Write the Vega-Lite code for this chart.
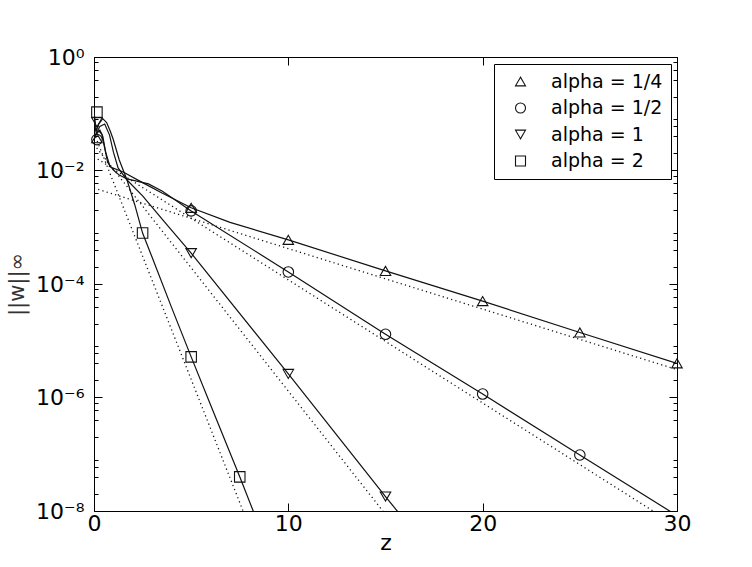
{
  "$schema": "https://vega.github.io/schema/vega-lite/v6.json",
  "width": 583,
  "height": 454,
  "autosize": {"type": "none"},
  "padding": {"left": 94, "top": 57, "right": 75, "bottom": 56},
  "background": "#ffffff",
  "config": {
    "view": {"stroke": null},
    "font": "DejaVu Sans",
    "axis": {
      "grid": false,
      "domainColor": "#000000",
      "domainWidth": 1,
      "tickColor": "#000000",
      "tickWidth": 1,
      "labelColor": "#000000",
      "labelFont": "DejaVu Sans",
      "labelFontSize": 22,
      "titleFont": "DejaVu Sans",
      "titleFontWeight": "normal",
      "titleColor": "#000000"
    }
  },
  "datasets": {
    "lines": [
      {"s": "alpha = 1/4", "k": "solid", "z": 0, "w": 0.0373},
      {"s": "alpha = 1/4", "k": "solid", "z": 0.1, "w": 0.044},
      {"s": "alpha = 1/4", "k": "solid", "z": 0.25, "w": 0.0497},
      {"s": "alpha = 1/4", "k": "solid", "z": 0.4, "w": 0.044},
      {"s": "alpha = 1/4", "k": "solid", "z": 0.55, "w": 0.0249},
      {"s": "alpha = 1/4", "k": "solid", "z": 0.7, "w": 0.0141},
      {"s": "alpha = 1/4", "k": "solid", "z": 0.85, "w": 0.0115},
      {"s": "alpha = 1/4", "k": "solid", "z": 1.5, "w": 0.0094},
      {"s": "alpha = 1/4", "k": "solid", "z": 2.5, "w": 0.00612},
      {"s": "alpha = 1/4", "k": "solid", "z": 3.5, "w": 0.004},
      {"s": "alpha = 1/4", "k": "solid", "z": 5, "w": 0.0022},
      {"s": "alpha = 1/4", "k": "solid", "z": 7, "w": 0.00122},
      {"s": "alpha = 1/4", "k": "solid", "z": 10, "w": 0.0006},
      {"s": "alpha = 1/4", "k": "solid", "z": 15, "w": 0.00017},
      {"s": "alpha = 1/4", "k": "solid", "z": 20, "w": 0.00005},
      {"s": "alpha = 1/4", "k": "solid", "z": 25, "w": 0.000014},
      {"s": "alpha = 1/4", "k": "solid", "z": 30, "w": 0.000004},

      {"s": "alpha = 1/2", "k": "solid", "z": 0, "w": 0.035},
      {"s": "alpha = 1/2", "k": "solid", "z": 0.1, "w": 0.044},
      {"s": "alpha = 1/2", "k": "solid", "z": 0.3, "w": 0.0516},
      {"s": "alpha = 1/2", "k": "solid", "z": 0.45, "w": 0.0404},
      {"s": "alpha = 1/2", "k": "solid", "z": 0.6, "w": 0.0211},
      {"s": "alpha = 1/2", "k": "solid", "z": 0.8, "w": 0.0125},
      {"s": "alpha = 1/2", "k": "solid", "z": 1.0, "w": 0.0102},
      {"s": "alpha = 1/2", "k": "solid", "z": 1.3, "w": 0.0083},
      {"s": "alpha = 1/2", "k": "solid", "z": 1.7, "w": 0.0071},
      {"s": "alpha = 1/2", "k": "solid", "z": 2.2, "w": 0.0065},
      {"s": "alpha = 1/2", "k": "solid", "z": 2.8, "w": 0.0058},
      {"s": "alpha = 1/2", "k": "solid", "z": 3.5, "w": 0.00435},
      {"s": "alpha = 1/2", "k": "solid", "z": 4.2, "w": 0.003},
      {"s": "alpha = 1/2", "k": "solid", "z": 5, "w": 0.00194},
      {"s": "alpha = 1/2", "k": "solid", "z": 10, "w": 0.000163},
      {"s": "alpha = 1/2", "k": "solid", "z": 15, "w": 0.000013},
      {"s": "alpha = 1/2", "k": "solid", "z": 20, "w": 0.00000115},
      {"s": "alpha = 1/2", "k": "solid", "z": 25, "w": 0.000000097},
      {"s": "alpha = 1/2", "k": "solid", "z": 30, "w": 0.0000000083},

      {"s": "alpha = 1", "k": "solid", "z": 0, "w": 0.071},
      {"s": "alpha = 1", "k": "solid", "z": 0.12, "w": 0.045},
      {"s": "alpha = 1", "k": "solid", "z": 0.3, "w": 0.06},
      {"s": "alpha = 1", "k": "solid", "z": 0.55, "w": 0.066},
      {"s": "alpha = 1", "k": "solid", "z": 0.8, "w": 0.042},
      {"s": "alpha = 1", "k": "solid", "z": 1.0, "w": 0.021},
      {"s": "alpha = 1", "k": "solid", "z": 1.24, "w": 0.0111},
      {"s": "alpha = 1", "k": "solid", "z": 1.7, "w": 0.0068},
      {"s": "alpha = 1", "k": "solid", "z": 2.5, "w": 0.00356},
      {"s": "alpha = 1", "k": "solid", "z": 3.55, "w": 0.00134},
      {"s": "alpha = 1", "k": "solid", "z": 5, "w": 0.00035},
      {"s": "alpha = 1", "k": "solid", "z": 10, "w": 0.0000026},
      {"s": "alpha = 1", "k": "solid", "z": 15, "w": 0.000000018},
      {"s": "alpha = 1", "k": "solid", "z": 16, "w": 0.0000000068},

      {"s": "alpha = 2", "k": "solid", "z": 0, "w": 0.107},
      {"s": "alpha = 2", "k": "solid", "z": 0.12, "w": 0.05},
      {"s": "alpha = 2", "k": "solid", "z": 0.25, "w": 0.066},
      {"s": "alpha = 2", "k": "solid", "z": 0.45, "w": 0.082},
      {"s": "alpha = 2", "k": "solid", "z": 0.65, "w": 0.07},
      {"s": "alpha = 2", "k": "solid", "z": 0.85, "w": 0.048},
      {"s": "alpha = 2", "k": "solid", "z": 1.0, "w": 0.0345},
      {"s": "alpha = 2", "k": "solid", "z": 1.3, "w": 0.0153},
      {"s": "alpha = 2", "k": "solid", "z": 1.7, "w": 0.0068},
      {"s": "alpha = 2", "k": "solid", "z": 2.1, "w": 0.00247},
      {"s": "alpha = 2", "k": "solid", "z": 2.5, "w": 0.00079},
      {"s": "alpha = 2", "k": "solid", "z": 3, "w": 0.00029},
      {"s": "alpha = 2", "k": "solid", "z": 4, "w": 0.000038},
      {"s": "alpha = 2", "k": "solid", "z": 5, "w": 0.0000052},
      {"s": "alpha = 2", "k": "solid", "z": 6, "w": 0.00000074},
      {"s": "alpha = 2", "k": "solid", "z": 7.5, "w": 0.00000004},
      {"s": "alpha = 2", "k": "solid", "z": 8.5, "w": 0.0000000054},

      {"s": "alpha = 1/4", "k": "dot", "z": 0, "w": 0.0049},
      {"s": "alpha = 1/4", "k": "dot", "z": 30, "w": 0.0000031},
      {"s": "alpha = 1/2", "k": "dot", "z": 0, "w": 0.0175},
      {"s": "alpha = 1/2", "k": "dot", "z": 30, "w": 0.0000000054},
      {"s": "alpha = 1", "k": "dot", "z": 0, "w": 0.0287},
      {"s": "alpha = 1", "k": "dot", "z": 16, "w": 0.0000000032},
      {"s": "alpha = 2", "k": "dot", "z": 0, "w": 0.046},
      {"s": "alpha = 2", "k": "dot", "z": 8.5, "w": 0.0000000019}
    ],
    "marks": [
      {"s": "alpha = 1/4", "z": 0.15, "w": 0.037},
      {"s": "alpha = 1/4", "z": 5, "w": 0.0022},
      {"s": "alpha = 1/4", "z": 10, "w": 0.0006},
      {"s": "alpha = 1/4", "z": 15, "w": 0.00017},
      {"s": "alpha = 1/4", "z": 20, "w": 0.00005},
      {"s": "alpha = 1/4", "z": 25, "w": 0.000014},
      {"s": "alpha = 1/4", "z": 30, "w": 0.000004},
      {"s": "alpha = 1/2", "z": 0.15, "w": 0.035},
      {"s": "alpha = 1/2", "z": 5, "w": 0.00194},
      {"s": "alpha = 1/2", "z": 10, "w": 0.000163},
      {"s": "alpha = 1/2", "z": 15, "w": 0.000013},
      {"s": "alpha = 1/2", "z": 20, "w": 0.00000115},
      {"s": "alpha = 1/2", "z": 25, "w": 0.000000097},
      {"s": "alpha = 1", "z": 0.15, "w": 0.071},
      {"s": "alpha = 1", "z": 5, "w": 0.00035},
      {"s": "alpha = 1", "z": 10, "w": 0.0000026},
      {"s": "alpha = 1", "z": 15, "w": 0.000000018},
      {"s": "alpha = 2", "z": 0.15, "w": 0.107},
      {"s": "alpha = 2", "z": 2.5, "w": 0.00079},
      {"s": "alpha = 2", "z": 5, "w": 0.0000052},
      {"s": "alpha = 2", "z": 7.5, "w": 0.00000004}
    ]
  },
  "layer": [
    {
      "data": {"name": "lines"},
      "transform": [{"filter": "datum.k == 'solid'"}],
      "mark": {"type": "line", "color": "#111111", "strokeWidth": 1.2, "clip": true},
      "encoding": {
        "x": {
          "field": "z", "type": "quantitative",
          "scale": {"domain": [0, 30], "nice": false, "zero": false},
          "axis": {
            "orient": "bottom", "values": [0, 10, 20, 30], "tickSize": -8,
            "labelPadding": 10, "labelFlush": false, "title": "z", "titleFontSize": 22, "titlePadding": -2
          }
        },
        "y": {
          "field": "w", "type": "quantitative",
          "scale": {"type": "log", "domain": [1e-8, 1], "nice": false},
          "axis": {
            "orient": "left",
            "values": [1, 0.8, 0.6, 0.4, 0.2, 0.08, 0.06, 0.04, 0.02, 0.01, 0.008, 0.006, 0.004, 0.002, 0.0008, 0.0006, 0.0004, 0.0002, 0.0001, 0.00008, 0.00006, 0.00004, 0.00002, 0.000008, 0.000006, 0.000004, 0.000002, 0.000001, 0.0000008, 0.0000006, 0.0000004, 0.0000002, 0.00000008, 0.00000006, 0.00000004, 0.00000002, 1e-8],
            "tickSize": {"condition": {"test": "datum.value == 1 || datum.value == 0.01 || datum.value == 0.0001 || datum.value == 0.000001 || datum.value == 1e-8", "value": -8}, "value": -4},
            "labelExpr": "datum.value == 1 ? '10⁰' : datum.value == 0.01 ? '10⁻²' : datum.value == 0.0001 ? '10⁻⁴' : datum.value == 0.000001 ? '10⁻⁶' : datum.value == 1e-8 ? '10⁻⁸' : ''",
            "labelPadding": 18,
            "labelFlush": false,
            "labelOverlap": false,
            "title": "||w||∞", "titleFontSize": 21, "titleColor": "#333333", "titlePadding": 8
          }
        },
        "detail": {"field": "s", "type": "nominal"}
      }
    },
    {
      "data": {"name": "lines"},
      "transform": [{"filter": "datum.k == 'dot'"}],
      "mark": {"type": "line", "color": "#111111", "strokeWidth": 1.3, "strokeDash": [1.2, 3.2], "clip": true},
      "encoding": {
        "x": {
          "field": "z", "type": "quantitative",
          "axis": {"orient": "top", "values": [0, 10, 20, 30], "tickSize": -8, "labels": false, "title": null}
        },
        "y": {
          "field": "w", "type": "quantitative",
          "axis": {
            "orient": "right",
            "values": [1, 0.8, 0.6, 0.4, 0.2, 0.08, 0.06, 0.04, 0.02, 0.01, 0.008, 0.006, 0.004, 0.002, 0.0008, 0.0006, 0.0004, 0.0002, 0.0001, 0.00008, 0.00006, 0.00004, 0.00002, 0.000008, 0.000006, 0.000004, 0.000002, 0.000001, 0.0000008, 0.0000006, 0.0000004, 0.0000002, 0.00000008, 0.00000006, 0.00000004, 0.00000002, 1e-8],
            "tickSize": {"condition": {"test": "datum.value == 1 || datum.value == 0.01 || datum.value == 0.0001 || datum.value == 0.000001 || datum.value == 1e-8", "value": -8}, "value": -4},
            "labels": false, "title": null
          }
        },
        "detail": {"field": "s", "type": "nominal"}
      }
    },
    {
      "data": {"name": "marks"},
      "mark": {"type": "point", "filled": false, "color": "#111111", "strokeWidth": 1.1, "size": 110, "opacity": 1},
      "encoding": {
        "x": {"field": "z", "type": "quantitative", "axis": null},
        "y": {"field": "w", "type": "quantitative", "axis": null},
        "shape": {
          "field": "s", "type": "nominal",
          "scale": {"domain": ["alpha = 1/4", "alpha = 1/2", "alpha = 1", "alpha = 2"], "range": ["triangle-up", "circle", "triangle-down", "square"]},
          "legend": {
            "orient": "none", "legendX": 400, "legendY": 7,
            "title": null,
            "strokeColor": "#000000", "fillColor": "#ffffff",
            "padding": 8, "rowPadding": 6.5,
            "labelFontSize": 19, "labelFont": "DejaVu Sans", "labelColor": "#000000",
            "labelOffset": 21, "symbolOffset": 9,
            "symbolSize": 100, "symbolStrokeColor": "#111111", "symbolFillColor": "transparent", "symbolStrokeWidth": 1.1,
            "labelExpr": "datum.label + ' '"
          }
        }
      }
    }
  ],
  "resolve": {"axis": {"x": "independent", "y": "independent"}}
}
